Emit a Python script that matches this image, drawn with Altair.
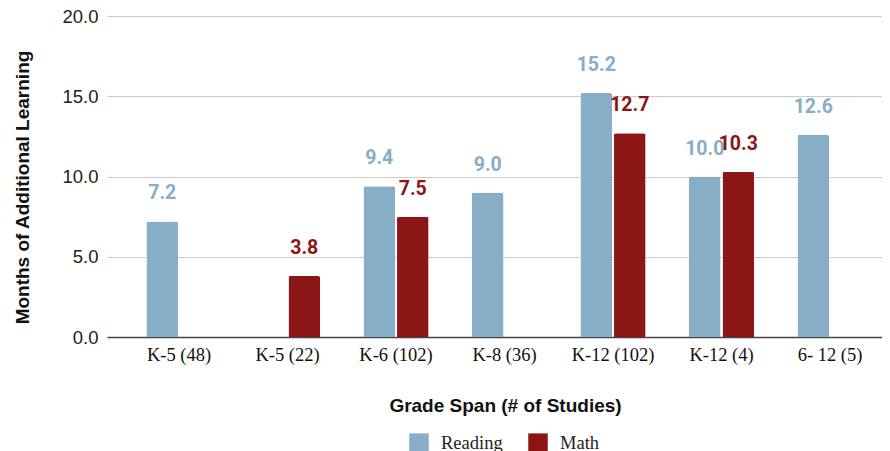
import altair as alt
import pandas as pd

categories = ["K-5 (48)", "K-5 (22)", "K-6 (102)", "K-8 (36)", "K-12 (102)", "K-12 (4)", "6- 12 (5)"]
reading = [7.2, None, 9.4, 9.0, 15.2, 10.0, 12.6]
math = [None, 3.8, 7.5, None, 12.7, 10.3, None]
series = ["Reading", "Math"]
colors = ["#87aec6", "#8c1515"]
y_ticks = [0, 5, 10, 15, 20]

rows = []
for c, r, m in zip(categories, reading, math):
    if r is not None:
        rows.append({"cat": c, "series": "Reading", "value": r})
    if m is not None:
        rows.append({"cat": c, "series": "Math", "value": m})
df = pd.DataFrame(rows)

x_enc = alt.X(
    "cat:N",
    sort=categories,
    scale=alt.Scale(domain=categories, paddingInner=0.4, paddingOuter=0.2714, align=0.67),
    axis=alt.Axis(
        title="Grade Span (# of Studies)",
        labelAngle=0,
        labelFont="Liberation Serif",
        labelFontSize=18.5,
        labelColor="#111111",
        labelPadding=8,
        ticks=False,
        domain=True,
        domainColor="#444444",
        domainWidth=1.5,
        grid=False,
        titleFont="Liberation Sans",
        titleFontSize=19,
        titleFontWeight="bold",
        titleColor="#111111",
        titleX=398,
        titleY=74,
        titleAnchor="middle",
        titleAlign="center",
        titleBaseline="alphabetic",
    ),
)
xoff_enc = alt.XOffset(
    "series:N", sort=series, scale=alt.Scale(domain=series, paddingInner=0.06, paddingOuter=0)
)
y_enc = alt.Y(
    "value:Q",
    scale=alt.Scale(domain=[0, 20], nice=False),
    axis=alt.Axis(
        title="Months of Additional Learning",
        values=y_ticks,
        format=".1f",
        labelFont="Liberation Sans",
        labelFontSize=18.5,
        labelColor="#222222",
        labelPadding=9,
        ticks=False,
        domain=False,
        grid=True,
        gridColor="#cccccc",
        gridWidth=1,
        titleFont="Liberation Sans",
        titleFontSize=19,
        titleFontWeight="bold",
        titleColor="#111111",
        titleX=-85,
        titleY=171,
        titleAngle=-90,
        titleAlign="center",
        titleBaseline="middle",
    ),
)

bars = alt.Chart(df).mark_bar(cornerRadiusTopLeft=2, cornerRadiusTopRight=2).encode(
    x=x_enc,
    xOffset=xoff_enc,
    y=y_enc,
    color=alt.Color(
        "series:N",
        sort=series,
        scale=alt.Scale(domain=series, range=colors),
        legend=alt.Legend(
            title=None,
            orient="none",
            direction="horizontal",
            legendX=302,
            legendY=417,
            symbolType="square",
            symbolSize=380,
            symbolStrokeWidth=0,
            symbolOpacity=1,
            labelFont="Liberation Serif",
            labelFontSize=18.5,
            labelColor="#222222",
            labelOffset=12,
            columnPadding=25,
            padding=0,
        ),
    ),
)

labels = alt.Chart(df).mark_text(
    baseline="alphabetic", dy=-22, font="Roboto", fontSize=19.5, fontWeight="bold"
).encode(
    x=x_enc,
    xOffset=xoff_enc,
    y=y_enc,
    text=alt.Text("value:Q", format=".1f"),
    color=alt.Color("series:N", sort=series, scale=alt.Scale(domain=series, range=colors), legend=None),
)

chart = (
    alt.layer(bars, labels)
    .properties(
        width=775,
        height=321,
        autosize=alt.AutoSizeParams(type="none"),
        padding={"left": 99, "top": 8, "right": 0, "bottom": 125},
    )
    .configure_view(stroke=None)
)

chart.save("out.html", embed_options={"renderer": "svg", "actions": False})
